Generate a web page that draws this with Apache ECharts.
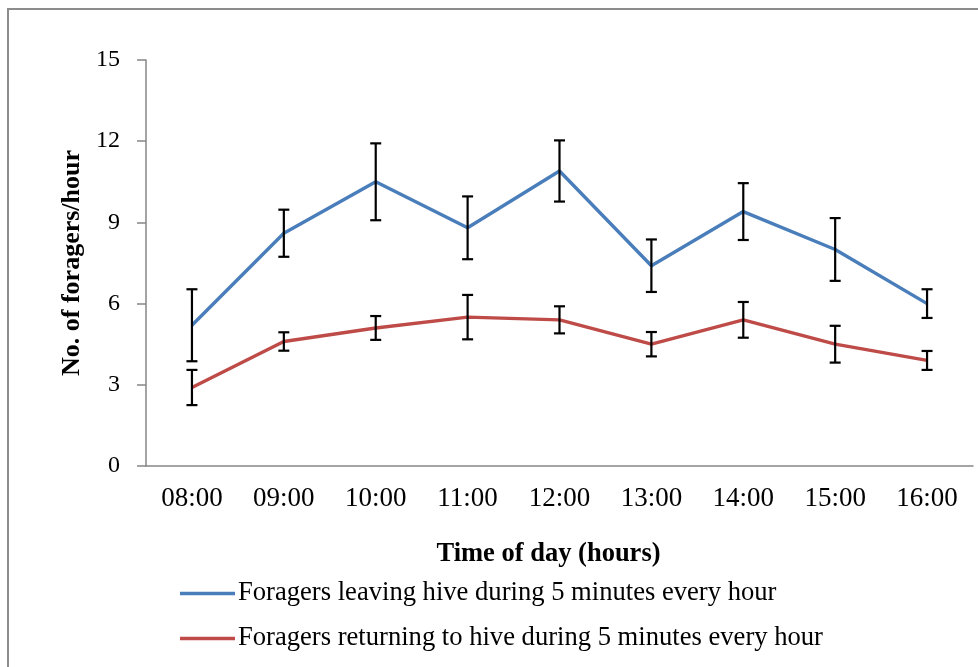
<!DOCTYPE html>
<html>
<head>
<meta charset="utf-8">
<script src="https://cdn.jsdelivr.net/npm/echarts@6/dist/echarts.min.js"></script>
<style>
html,body{margin:0;padding:0;background:#fff;}
#chart{position:absolute;left:0;top:0;width:978px;height:667px;}
#frame{position:absolute;left:7px;top:8px;width:990px;height:700px;border-left:2px solid #8c8c8c;border-top:2px solid #8c8c8c;pointer-events:none;}
</style>
</head>
<body>
<div id="chart"></div>
<div id="frame"></div>
<script>
var categories = ['08:00','09:00','10:00','11:00','12:00','13:00','14:00','15:00','16:00'];
var leavingValues = [5.2, 8.6, 10.5, 8.8, 10.9, 7.4, 9.4, 8.0, 6.0];
var leavingErrors = [1.33, 0.87, 1.42, 1.16, 1.13, 0.97, 1.05, 1.16, 0.53];
var returningValues = [2.9, 4.6, 5.1, 5.5, 5.4, 4.5, 5.4, 4.5, 3.9];
var returningErrors = [0.65, 0.34, 0.44, 0.82, 0.5, 0.45, 0.66, 0.68, 0.35];
var seriesNames = ['Foragers leaving hive during 5 minutes every hour',
                   'Foragers returning to hive during 5 minutes every hour'];

function errData(vals, errs){
  return vals.map(function(v,i){ return [i, v - errs[i], v + errs[i]]; });
}
function renderErr(params, api){
  var x = api.value(0);
  var lo = api.coord([x, api.value(1)]);
  var hi = api.coord([x, api.value(2)]);
  var hw = 5.5;
  var st = {stroke:'#000', lineWidth:2.2};
  return {type:'group', children:[
    {type:'line', shape:{x1:lo[0],y1:lo[1],x2:hi[0],y2:hi[1]}, style:st},
    {type:'line', shape:{x1:lo[0]-hw,y1:lo[1],x2:lo[0]+hw,y2:lo[1]}, style:st},
    {type:'line', shape:{x1:hi[0]-hw,y1:hi[1],x2:hi[0]+hw,y2:hi[1]}, style:st}
  ]};
}
var font = '"Liberation Serif","Times New Roman",serif';
var chart = echarts.init(document.getElementById('chart'));
chart.setOption({
  animation:false,
  textStyle:{fontFamily:font},
  grid:{left:146, right:5, top:60, bottom:201},
  legend:{
    orient:'vertical', left:175, top:575, itemGap:18,
    icon:'rect', itemWidth:55, itemHeight:3.5,
    textStyle:{fontFamily:font, fontSize:26.6, color:'#000', padding:[0,0,0,-2]},
    data:seriesNames
  },
  xAxis:{
    type:'category', data:categories,
    name:'Time of day (hours)', nameLocation:'middle', nameGap:75,
    nameTextStyle:{fontFamily:font, fontSize:26.5, fontWeight:'bold', color:'#000', padding:[0,22,0,0]},
    axisLine:{lineStyle:{color:'#868686', width:1.5}},
    axisTick:{length:8, lineStyle:{color:'#868686', width:1.5}},
    axisLabel:{fontFamily:font, fontSize:27, color:'#000', margin:19}
  },
  yAxis:{
    type:'value', min:0, max:15, interval:3,
    name:'No. of foragers/hour', nameLocation:'middle', nameGap:53,
    nameTextStyle:{fontFamily:font, fontSize:26, fontWeight:'bold', color:'#000'},
    axisLine:{show:true, lineStyle:{color:'#868686', width:1.5}},
    axisTick:{show:true, length:9, lineStyle:{color:'#868686', width:1.5}},
    splitLine:{show:false},
    axisLabel:{fontFamily:font, fontSize:24, color:'#000', margin:26}
  },
  series:[
    {name:seriesNames[0], type:'line', data:leavingValues, symbol:'none',
     lineStyle:{color:'#4a7ebb', width:3.4}, itemStyle:{color:'#4a7ebb'}, z:2},
    {name:seriesNames[1], type:'line', data:returningValues, symbol:'none',
     lineStyle:{color:'#be4b48', width:3.4}, itemStyle:{color:'#be4b48'}, z:2},
    {type:'custom', renderItem:renderErr, data:errData(leavingValues, leavingErrors), z:5},
    {type:'custom', renderItem:renderErr, data:errData(returningValues, returningErrors), z:5}
  ]
});
</script>
</body>
</html>
